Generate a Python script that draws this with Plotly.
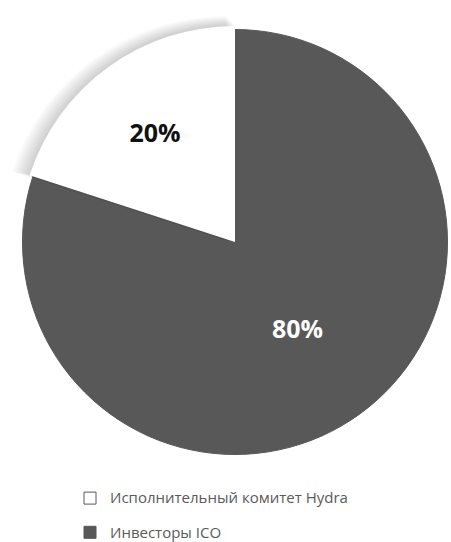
import plotly.graph_objects as go

labels = ["Исполнительный комитет Hydra", "Инвесторы ICO"]
values = [20, 80]
colors = ["#ffffff", "#585858"]

W, H = 451, 542
CX, CY = 235, 242
R_MAIN = 212.5
R_TOP = 216
# first slice ends at 12 o'clock, laid out clockwise
ROT = -360.0 * values[0] / sum(values)


def dom(cx, cy, r):
    return dict(x=[max(0.0, (cx - r) / W), min(1.0, (cx + r) / W)],
                y=[(H - (cy + r)) / H, (H - (cy - r)) / H])


legend_labels = ["<span style='font-size:15px;baseline-shift:4px'>%s</span>" % l for l in labels]

fig = go.Figure()

# main pie (provides legend)
fig.add_trace(go.Pie(
    labels=legend_labels, values=values, sort=False, direction="clockwise",
    rotation=ROT, domain=dom(CX, CY, R_MAIN),
    marker=dict(colors=colors, line=dict(color="#585858", width=1)),
    texttemplate=["", "%{percent}"], textposition="inside",
    insidetextorientation="horizontal",
    textfont=dict(family="Open Sans", size=25, color="#ffffff", weight="bold"),
    hoverinfo="skip", showlegend=True,
))

# soft shadow layers under the highlighted slice
for r in range(225, 216, -1):
    fig.add_trace(go.Pie(
        labels=legend_labels, values=values, sort=False, direction="clockwise",
        rotation=ROT, domain=dom(W - r, CY - 1, r),
        marker=dict(colors=["rgba(0,0,0,0.018)", "rgba(0,0,0,0)"], line=dict(width=0)),
        textinfo="none", hoverinfo="skip", showlegend=False,
    ))

# enlarged highlighted slice
fig.add_trace(go.Pie(
    labels=legend_labels, values=values, sort=False, direction="clockwise",
    rotation=ROT, domain=dom(CX, CY, R_TOP),
    marker=dict(colors=["#ffffff", "rgba(0,0,0,0)"], line=dict(width=0)),
    texttemplate=["%{percent}", ""], textposition="inside",
    insidetextorientation="horizontal",
    textfont=dict(family="Open Sans", size=25, color="#111111", weight="bold"),
    hoverinfo="skip", showlegend=False,
))

fig.update_layout(
    width=W, height=H,
    margin=dict(l=0, r=0, t=0, b=0, autoexpand=False),
    paper_bgcolor="#ffffff", plot_bgcolor="#ffffff",
    legend=dict(
        x=70 / W, xanchor="left", y=(H - 476) / H, yanchor="top",
        font=dict(family="Open Sans", size=24, color="#5a5a5a"),
        bgcolor="rgba(0,0,0,0)", traceorder="normal",
    ),
)

fig.write_html("out.html")
